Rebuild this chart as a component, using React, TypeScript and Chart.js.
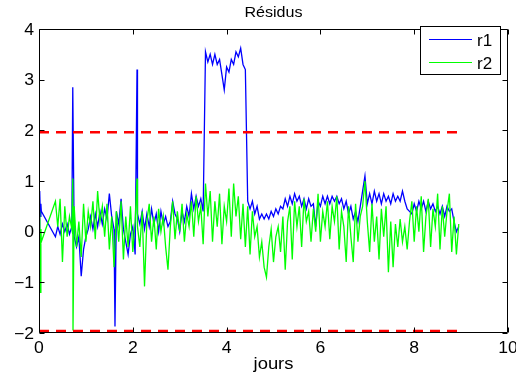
import { useEffect, useRef } from "react";
import { Chart, registerables } from "chart.js";
Chart.register(...registerables);

const titre = "Résidus";
const axeX = "jours";
const nomsSeries = ["r1", "r2"];
const couleurs = ["#0000ff", "#00ff00"];
const seuil = 1.96;
const xTicks = [0, 2, 4, 6, 8, 10];
const yTicks = [-2, -1, 0, 1, 2, 3, 4];

// time stamps (days): a few early samples, a gap, then a regular 0.05-day grid
const joursDebut = [0, 0.01, 0.02, 0.03, 0.04, 0.05];
const grilleDebut = 0.35;
const grillePas = 0.05;
const grilleN = 173;
const jours = [
  ...joursDebut,
  ...Array.from({ length: grilleN }, (_, i) => Math.round((grilleDebut + grillePas * i) * 100) / 100),
];

const r1 = [
  -0.7, 0.5, 0.8, 0.3, 0.55, 0.4,
  -0.1, 0.1, -0.05, 0.15, 0.0, 0.15, -0.05, 0.1, -0.1, -0.3,
  -0.1, -0.88, -0.35, -0.1, 0.05, 0.3, 0.05, 0.35, 0.1, 0.4,
  0.15, 0.45, 0.25, 0.75, 0.3, 0.05, 0.4, 0.15, 0.65, 0.05,
  -0.2, -0.45, -0.05, 0.1, -0.45, 0.35, 0.15, 0.4, 0.05, 0.35,
  0.1, 0.45, 0.15, 0.35, 0.0, 0.4, 0.15, 0.3, 0.1, 0.2,
  0.6, 0.35, 0.25, 0.0, 0.4, 0.2, 0.5, 0.3, 0.75, 0.45,
  0.7, 0.5, 0.65, 0.4, 3.55, 3.35, 3.5, 3.3, 3.5, 3.3,
  3.4, 3.1, 2.8, 3.25, 3.15, 3.4, 3.3, 3.55, 3.45, 3.62,
  3.3, 3.2, 0.6, 0.45, 0.6, 0.35, 0.5, 0.25, 0.35, 0.25,
  0.35, 0.25, 0.4, 0.3, 0.45, 0.35, 0.5, 0.45, 0.65, 0.5,
  0.7, 0.55, 0.75, 0.6, 0.7, 0.5, 0.65, 0.45, 0.65, 0.5,
  0.55, 0.1, 0.6, 0.5, 0.7, 0.55, 0.7, 0.55, 0.7, 0.6,
  0.7, 0.55, 0.65, 0.45, 0.6, 0.35, 0.5, 0.25, 0.4, 0.2,
  0.5, 0.8, 1.1, 0.55, 0.75, 0.55, 0.8, 0.6, 0.75, 0.55,
  0.75, 0.6, 0.7, 0.55, 0.75, 0.6, 0.7, 0.6, 0.8, 0.6,
  0.45, 0.4, 0.35, 0.55, 0.4, 0.6, 0.45, 0.6, 0.4, 0.6,
  0.45, 0.55, 0.4, 0.5, 0.35, 0.5, 0.3, 0.5, 0.4, 0.45,
  0.2, 0.0, 0.1,
];

const r2 = [
  0.2, -0.9, 0.4, -1.2, 0.05, -0.2,
  0.6, 0.1, 0.65, -0.6, 0.5, -0.1, 0.3, 0.05, 0.5, -0.3,
  0.2, -0.5, 0.55, -0.2, 0.4, 0.1, 0.6, -0.15, 0.8, 0.2,
  0.5, -0.1, 0.55, -0.35, 0.3, -0.7, 0.4, -0.2, 0.6, -0.55,
  0.3, -0.3, 0.5, -0.4, 0.2, 0.1, -0.3, 0.4, -1.08, 0.2,
  0.55, -0.2, 0.3, -0.35, 0.45, 0.0, 0.3, -0.3, -0.75, 0.1,
  0.6, -0.15, 0.4, 0.0, 0.55, -0.2, 0.35, 0.1, 0.6, -0.1,
  0.7, 0.2, 0.5, -0.25, 0.95, 0.3, 0.8, -0.2, 0.6, 0.1,
  0.75, -0.25, 0.5, 0.2, 0.85, -0.1, 0.95, 0.3, 0.7, -0.15,
  0.55, -0.3, 0.5, -0.45, 0.4, -0.1, 0.1, -0.5, -0.2, -0.7,
  -0.9, -0.3, 0.05, -0.6, -0.1, 0.1, -0.4, 0.3, -0.75, 0.2,
  0.5, -0.55, 0.6, 0.1, 0.5, -0.3, 0.65, 0.2, 0.4, -0.2,
  0.45, 0.0, 0.75, -0.2, 0.4, 0.1, 0.6, -0.15, 0.5, 0.2,
  0.7, -0.35, 0.4, 0.1, -0.6, 0.5, -0.1, -0.6, 0.55, -0.2,
  0.3, 0.5, 1.0, 0.2, -0.4, 0.55, -0.2, 0.3, -0.55, 0.45,
  -0.1, 0.5, -0.8, 0.2, -0.7, 0.15, -0.3, 0.25, -0.2, 0.1,
  -0.35, 0.2, 0.6, -0.2, 0.5, 0.0, 0.7, -0.4, 0.3, 0.65,
  -0.3, 0.45, 0.1, 0.75, -0.35, 0.5, -0.1, 0.4, 0.75, -0.4,
  0.3, -0.45, 0.15,
];

// isolated spikes [day, value]
const r1Pics: [number, number][] = [[0.72, 2.85], [1.62, -1.87], [2.09, 3.2]];
const r2Pics: [number, number][] = [[0.72, 1.05], [0.725, -1.95], [2.09, 1.05]];

const FAM = '"Liberation Sans", Arial, Helvetica, sans-serif';

function serie(vals: number[], pics: [number, number][]) {
  const pts = jours.map((t, i) => ({ x: t, y: vals[i] }));
  pics.forEach(([x, y]) => pts.push({ x, y }));
  return pts.sort((a, b) => a.x - b.x);
}

function texte(ctx: CanvasRenderingContext2D, s: string, x: number, y: number, size: number, align: CanvasTextAlign, sx: number) {
  ctx.save();
  ctx.font = `${size}px ${FAM}`;
  ctx.textAlign = align;
  ctx.textBaseline = "alphabetic";
  ctx.fillStyle = "#000";
  ctx.translate(x, y + 0.358 * size);
  ctx.scale(sx, 1);
  ctx.fillText(s, 0, 0);
  ctx.restore();
}

const cadre = {
  id: "cadre",
  afterDraw(chart: any) {
    const ctx: CanvasRenderingContext2D = chart.ctx;
    const { left, right, top, bottom } = chart.chartArea;
    const xs = chart.scales.x;
    const ys = chart.scales.y;
    const L = Math.round(left) + 0.5, R = Math.round(right) - 0.5, T = Math.round(top) + 0.5, B = Math.round(bottom) - 0.5;
    ctx.save();
    ctx.strokeStyle = "#000";
    ctx.lineWidth = 1;
    ctx.beginPath();
    ctx.rect(L, T, R - L, B - T);
    const tl = 5;
    xTicks.forEach((v) => {
      const px = Math.round(xs.getPixelForValue(v)) + 0.5;
      ctx.moveTo(px, B); ctx.lineTo(px, B - tl);
      ctx.moveTo(px, T); ctx.lineTo(px, T + tl);
    });
    yTicks.forEach((v) => {
      const py = Math.round(ys.getPixelForValue(v)) + 0.5;
      ctx.moveTo(L, py); ctx.lineTo(L + tl, py);
      ctx.moveTo(R, py); ctx.lineTo(R - tl, py);
    });
    ctx.stroke();
    ctx.restore();

    const fmt = (v: number) => (v < 0 ? "\u2212" + Math.abs(v) : String(v));
    xTicks.forEach((v) => texte(ctx, fmt(v), xs.getPixelForValue(v), bottom + 14, 16, "center", 1.1));
    yTicks.forEach((v) => texte(ctx, fmt(v), left - 5, ys.getPixelForValue(v), 16, "right", 1.1));
    texte(ctx, titre, (left + right) / 2, 12, 14, "center", 1.15);
    texte(ctx, axeX, (left + right) / 2, 363, 16, "center", 1.15);

    // legend
    const lx = 420, ly = 26, lw = 81, lh = 49;
    ctx.save();
    ctx.fillStyle = "#fff";
    ctx.fillRect(lx, ly, lw, lh);
    ctx.strokeStyle = "#000";
    ctx.lineWidth = 1;
    ctx.strokeRect(lx + 0.5, ly + 0.5, lw - 1, lh - 1);
    const rows = [39.5, 62.5];
    rows.forEach((y, i) => {
      ctx.strokeStyle = couleurs[i];
      ctx.beginPath();
      ctx.moveTo(429, y); ctx.lineTo(472, y);
      ctx.stroke();
    });
    ctx.restore();
    rows.forEach((y, i) => texte(ctx, nomsSeries[i], 477, y, 17, "left", 1.0));
  },
};

export default function App() {
  const ref = useRef<HTMLCanvasElement>(null);
  useEffect(() => {
    const finJour = jours[jours.length - 1];
    const chart = new Chart(ref.current!, {
      type: "line",
      data: {
        datasets: [
          {
            label: "seuil+",
            data: [{ x: 0, y: seuil }, { x: finJour, y: seuil }],
            borderColor: "#ff0000",
            borderWidth: 2.5,
            borderDash: [10, 7],
            order: 0,
          },
          {
            label: "seuil-",
            data: [{ x: 0, y: -seuil }, { x: finJour, y: -seuil }],
            borderColor: "#ff0000",
            borderWidth: 2.5,
            borderDash: [10, 7],
            order: 0,
          },
          {
            label: nomsSeries[1],
            data: serie(r2, r2Pics),
            borderColor: couleurs[1],
            borderWidth: 1.3,
            order: 1,
          },
          {
            label: nomsSeries[0],
            data: serie(r1, r1Pics),
            borderColor: couleurs[0],
            borderWidth: 1.3,
            order: 2,
          },
        ] as any,
      },
      options: {
        responsive: false,
        animation: false,
        devicePixelRatio: 1,
        layout: { padding: { left: 39, right: 8, top: 29, bottom: 43 } },
        parsing: false as any,
        elements: { point: { radius: 0 }, line: { tension: 0 } },
        plugins: { legend: { display: false }, title: { display: false }, tooltip: { enabled: false } },
        scales: {
          x: { type: "linear", min: 0, max: 10, display: false },
          y: { type: "linear", min: -2, max: 4, display: false },
        },
      },
      plugins: [cadre],
    });
    return () => chart.destroy();
  }, []);
  return (
    <div style={{ position: "absolute", left: 0, top: 0, width: 516, height: 376, background: "#fff" }}>
      <canvas ref={ref} width={516} height={376} style={{ display: "block" }} />
    </div>
  );
}
